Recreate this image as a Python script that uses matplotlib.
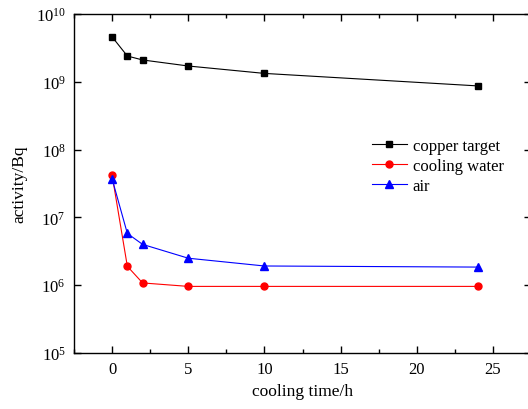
import matplotlib
matplotlib.use('Agg')
import matplotlib.pyplot as plt
from matplotlib.ticker import MultipleLocator, NullLocator, LogLocator

plt.rcParams['font.family'] = 'Liberation Serif'
plt.rcParams['mathtext.fontset'] = 'custom'
plt.rcParams['mathtext.rm'] = 'Liberation Serif'
plt.rcParams['font.size'] = 12

# cooling time (h)
time_h = [0, 1, 2, 5, 10, 24]
copper_target = [4.6e9, 2.4e9, 2.1e9, 1.71e9, 1.33e9, 8.7e8]
cooling_water = [4.2e7, 1.9e6, 1.08e6, 9.6e5, 9.6e5, 9.6e5]
air = [3.7e7, 5.8e6, 4.0e6, 2.5e6, 1.92e6, 1.85e6]

fig = plt.figure(figsize=(5.28, 4.10), dpi=100)
ax = fig.add_axes([0.1402, 0.1366, 0.8655, 0.8268])

ax.plot(time_h, copper_target, color='black', marker='s', markersize=4.5,
        linewidth=0.8, label='copper target')
ax.plot(time_h, cooling_water, color='red', marker='o', markersize=5,
        linewidth=0.8, label='cooling water')
ax.plot(time_h, air, color='blue', marker='^', markersize=6,
        linewidth=0.8, label='air')

ax.set_yscale('log')
ax.set_xlim(-2.5, 27.5)
ax.set_ylim(1e5, 1e10)
ax.xaxis.set_major_locator(MultipleLocator(5))
ax.xaxis.set_minor_locator(MultipleLocator(2.5))
ax.yaxis.set_major_locator(LogLocator(base=10, numticks=10))
ax.yaxis.set_minor_locator(NullLocator())
ax.tick_params(which='both', direction='in', top=True, right=True, labelsize=12, width=1)
ax.tick_params(which='major', length=5, pad=6)
ax.tick_params(which='minor', length=3)
for s in ax.spines.values():
    s.set_linewidth(1)

ax.set_xlabel('cooling time/h', fontsize=12.5)
ax.set_ylabel('activity/Bq', fontsize=12.5, labelpad=6)

ax.legend(loc='upper left', bbox_to_anchor=(0.637, 0.655), frameon=False,
          fontsize=12, handlelength=2.1, handletextpad=0.35, labelspacing=0.25,
          borderaxespad=0)

plt.savefig('out.png', dpi=100)
